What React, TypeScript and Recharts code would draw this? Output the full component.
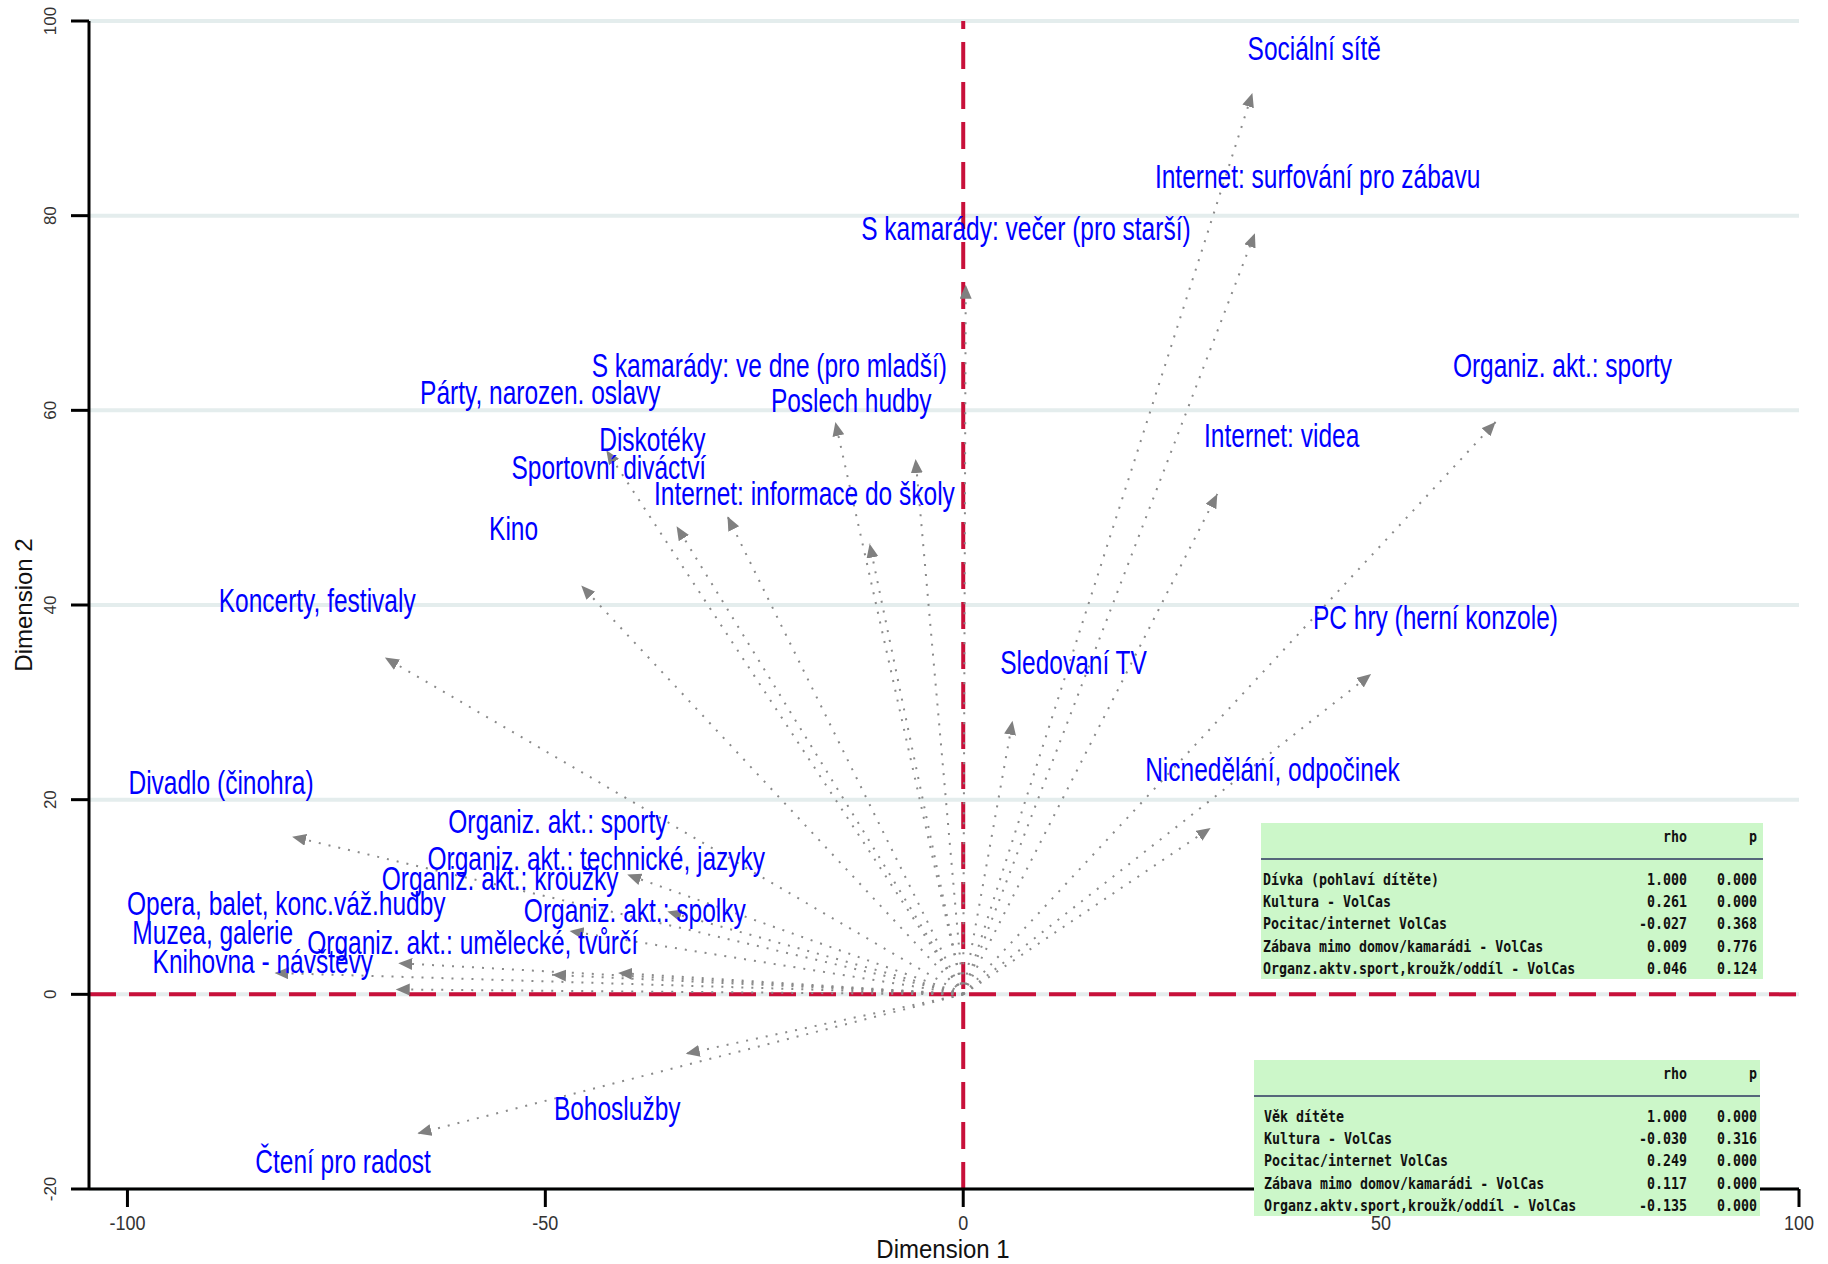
import { ScatterChart, Scatter, XAxis, YAxis, CartesianGrid, ReferenceLine } from 'recharts'

// activities and their coordinates (arrow tips) in the two dimensions
const activities = [
  'Sociální sítě',
  'Internet: surfování pro zábavu',
  'S kamarády: večer (pro starší)',
  'Organiz. akt.: sporty',
  'Internet: videa',
  'PC hry (herní konzole)',
  'Sledovaní TV',
  'Nicnedělání, odpočinek',
  'S kamarády: ve dne (pro mladší)',
  'Poslech hudby',
  'Párty, narozen. oslavy',
  'Diskotéky',
  'Sportovní diváctví',
  'Internet: informace do školy',
  'Kino',
  'Koncerty, festivaly',
  'Divadlo (činohra)',
  'Organiz. akt.: sporty',
  'Organiz. akt.: technické, jazyky',
  'Organiz. akt.: kroužky',
  'Opera, balet, konc.váž.hudby',
  'Organiz. akt.: spolky',
  'Muzea, galerie',
  'Organiz. akt.: umělecké, tvůrčí',
  'Knihovna - návštěvy',
  'Bohoslužby',
  'Čtení pro radost',
]
const dim1 = [34.6, 34.9, 0.3, 63.7, 30.4, 48.8, 5.9, 29.6, -15.3, -5.7, -42.7, -28.2, -34.3, -11.2, -45.7, -69.2, -80.3, -40.2, -35.4, -47.1, -67.6, -41.3, -82.4, -49.2, -67.9, -33.2, -65.3]
const dim2 = [92.6, 78.2, 72.9, 58.8, 51.4, 32.9, 28.1, 17.1, 58.8, 55.0, 55.9, 49.1, 48.1, 46.3, 42.0, 34.6, 16.2, 12.3, 8.5, 6.5, 3.2, 2.2, 2.2, 2.0, 0.5, -6.1, -14.3]
// where each label sits
const labelDim1 = [42.0, 42.4, 7.5, 71.7, 38.1, 56.5, 13.2, 37.0, -23.2, -13.4, -50.6, -37.2, -42.4, -19.0, -53.8, -77.3, -88.8, -48.5, -43.9, -55.4, -81.0, -39.3, -89.8, -58.7, -83.8, -41.4, -74.2]
const labelDim2 = [97.2, 84.0, 78.7, 64.6, 57.4, 38.7, 34.1, 23.1, 64.6, 61.0, 61.8, 57.0, 54.1, 51.4, 47.8, 40.4, 21.7, 17.7, 13.9, 11.9, 9.3, 8.6, 6.3, 5.3, 3.4, -11.7, -17.2]

const xTicks = [-100, -50, 0, 50, 100]
const yTicks = [-20, 0, 20, 40, 60, 80, 100]

// correlation tables
const girlRows = ['Dívka (pohlaví dítěte)', 'Kultura - VolCas', 'Pocitac/internet VolCas', 'Zábava mimo domov/kamarádi - VolCas', 'Organz.aktv.sport,kroužk/oddíl - VolCas']
const girlRho = [1.0, 0.261, -0.027, 0.009, 0.046]
const girlP = [0.0, 0.0, 0.368, 0.776, 0.124]
const ageRows = ['Věk dítěte', 'Kultura - VolCas', 'Pocitac/internet VolCas', 'Zábava mimo domov/kamarádi - VolCas', 'Organz.aktv.sport,kroužk/oddíl - VolCas']
const ageRho = [1.0, -0.03, 0.249, 0.117, -0.135]
const ageP = [0.0, 0.316, 0.0, 0.0, 0.0]

const FONT = '"Liberation Sans", Arial, sans-serif'

const noShape = () => <g />

function LabelShape(props: any) {
  const { cx, cy, payload } = props
  return (
    <text
      transform={`translate(${cx},${cy}) scale(1,1.35)`}
      textAnchor="middle"
      dominantBaseline="central"
      fontFamily={FONT}
      fontSize={24.5}
      fill="#0000ff"
    >
      {payload.name}
    </text>
  )
}

function XTick({ x, y, payload }: any) {
  return (
    <text
      transform={`translate(${x},${y + 14}) scale(1,1.1)`}
      textAnchor="middle"
      dominantBaseline="central"
      fontFamily={FONT}
      fontSize={18}
      fill="#333"
    >
      {payload.value}
    </text>
  )
}

function YTick({ x, y, payload }: any) {
  return (
    <text
      transform={`translate(${x - 19},${y}) rotate(-90)`}
      textAnchor="middle"
      dominantBaseline="central"
      fontFamily={FONT}
      fontSize={17}
      fill="#333"
    >
      {payload.value}
    </text>
  )
}

function XTitle({ viewBox }: any) {
  return (
    <text
      transform={`translate(${viewBox.x + viewBox.width / 2 - 1},${viewBox.y + 69}) scale(1,1.1)`}
      textAnchor="middle"
      fontFamily={FONT}
      fontSize={24}
      fill="#111"
    >
      Dimension 1
    </text>
  )
}

function YTitle({ viewBox }: any) {
  return (
    <text
      transform={`translate(23,${viewBox.y + viewBox.height / 2}) rotate(-90)`}
      textAnchor="middle"
      dominantBaseline="central"
      fontFamily={FONT}
      fontSize={24}
      fill="#111"
    >
      Dimension 2
    </text>
  )
}

interface TableProps {
  left: number
  top: number
  width: number
  pad: number
  rhoRight: number
  pRight: number
  rows: string[]
  rho: number[]
  p: number[]
}

function StatTable({ left, top, width, pad, rhoRight, pRight, rows, rho, p }: TableProps) {
  const cell = {
    position: 'absolute' as const,
    lineHeight: '18px',
    height: 18,
    whiteSpace: 'pre' as const,
    transform: 'scaleY(1.2)',
  }
  const rowY = [57, 79, 101, 124, 146]
  return (
    <div
      style={{
        position: 'absolute',
        left,
        top,
        width,
        height: 156,
        background: '#ccf7c9',
        fontFamily: '"DejaVu Sans Mono", "Liberation Mono", monospace',
        fontWeight: 'bold',
        fontSize: 13.3,
        color: '#111',
      }}
    >
      <div style={{ ...cell, top: 14 - 9, right: width - rhoRight }}>rho</div>
      <div style={{ ...cell, top: 14 - 9, right: width - pRight }}>p</div>
      <div style={{ position: 'absolute', left: 0, top: 35, width, height: 2, background: '#55667a' }} />
      {rows.map((r, i) => (
        <div key={i}>
          <div style={{ ...cell, top: rowY[i] - 9, left: pad }}>{r}</div>
          <div style={{ ...cell, top: rowY[i] - 9, right: width - rhoRight }}>{rho[i].toFixed(3)}</div>
          <div style={{ ...cell, top: rowY[i] - 9, right: width - pRight }}>{p[i].toFixed(3)}</div>
        </div>
      ))}
    </div>
  )
}

export default function App() {
  const labelData = activities.map((name, i) => ({ x: labelDim1[i], y: labelDim2[i], name }))

  return (
    <div style={{ position: 'absolute', left: 0, top: 0, width: 1828, height: 1264, background: '#fff' }}>
      <svg width={0} height={0} style={{ position: 'absolute' }}>
        <defs>
          <marker id="arrowHead" markerUnits="userSpaceOnUse" markerWidth={16} markerHeight={14} refX={14} refY={6} orient="auto">
            <path d="M0,0 L14,6 L0,12 z" fill="#808080" />
          </marker>
        </defs>
      </svg>

      <ScatterChart width={1828} height={1264} margin={{ top: 21, right: 29, left: 0, bottom: 0 }}>
        <CartesianGrid horizontal vertical={false} stroke="#e4eded" strokeWidth={4} />
        <XAxis
          type="number"
          dataKey="x"
          domain={[-104.6, 100]}
          ticks={xTicks}
          allowDataOverflow
          height={75}
          tickSize={18}
          axisLine={{ stroke: '#000', strokeWidth: 3 }}
          tickLine={{ stroke: '#000', strokeWidth: 3 }}
          tick={<XTick />}
          label={<XTitle />}
        />
        <YAxis
          type="number"
          dataKey="y"
          domain={[-20, 100]}
          ticks={yTicks}
          allowDataOverflow
          width={89}
          tickSize={18}
          axisLine={{ stroke: '#000', strokeWidth: 3 }}
          tickLine={{ stroke: '#000', strokeWidth: 3 }}
          tick={<YTick />}
          label={<YTitle />}
        />
        <ReferenceLine x={0} stroke="#c8103a" strokeWidth={4} strokeDasharray="27 13" />
        <ReferenceLine y={0} stroke="#c8103a" strokeWidth={4} strokeDasharray="27 13" />

        {activities.map((name, i) => (
          <Scatter
            key={name + i}
            data={[{ x: 0, y: 0 }, { x: dim1[i], y: dim2[i] }]}
            line={{ stroke: '#8a8a8a', strokeWidth: 2, strokeDasharray: '2 8', markerEnd: 'url(#arrowHead)' }}
            shape={noShape}
            isAnimationActive={false}
          />
        ))}

        <Scatter data={labelData} shape={<LabelShape />} isAnimationActive={false} />
      </ScatterChart>

      <StatTable left={1261} top={823} width={502} pad={2} rhoRight={426} pRight={496} rows={girlRows} rho={girlRho} p={girlP} />
      <StatTable left={1254} top={1060} width={506} pad={10} rhoRight={433} pRight={503} rows={ageRows} rho={ageRho} p={ageP} />
    </div>
  )
}
